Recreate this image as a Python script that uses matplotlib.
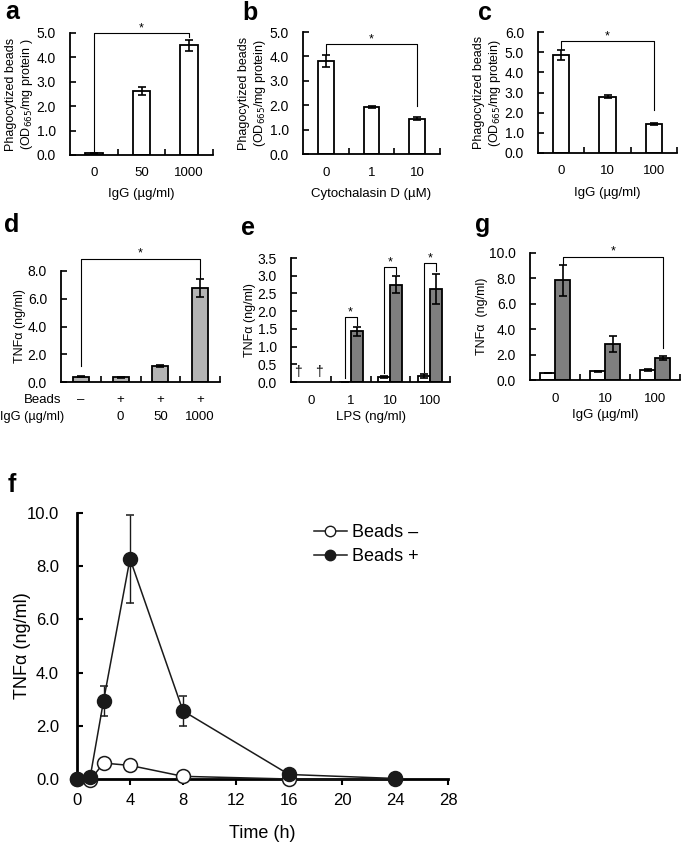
import numpy as np
import matplotlib
matplotlib.use('Agg')
import matplotlib.pyplot as plt
from matplotlib.lines import Line2D

plt.rcParams['font.family'] = ['Liberation Sans', 'DejaVu Sans']

# --- data ---
a_cats = ['0', '50', '1000']
a_mean = [0.08, 2.62, 4.5]
a_err = [0.02, 0.17, 0.22]

b_cats = ['0', '1', '10']
b_mean = [3.8, 1.92, 1.45]
b_err = [0.25, 0.04, 0.05]

c_cats = ['0', '10', '100']
c_mean = [4.87, 2.8, 1.45]
c_err = [0.25, 0.08, 0.05]

d_beads = ['\u2013', '+', '+', '+']
d_igg = ['', '0', '50', '1000']
d_mean = [0.38, 0.33, 1.15, 6.75]
d_err = [0.03, 0.02, 0.06, 0.65]

e_cats = ['0', '1', '10', '100']
e_white = [np.nan, 0.01, 0.14, 0.17]
e_white_err = [np.nan, 0.0, 0.03, 0.05]
e_gray = [np.nan, 1.43, 2.75, 2.62]
e_gray_err = [np.nan, 0.12, 0.25, 0.43]

g_cats = ['0', '10', '100']
g_white = [0.55, 0.68, 0.75]
g_white_err = [0.03, 0.03, 0.08]
g_gray = [7.85, 2.85, 1.75]
g_gray_err = [1.2, 0.65, 0.17]

f_time = [0, 1, 2, 4, 8, 16, 24]
f_minus = [0.0, -0.04, 0.6, 0.51, 0.1, 0.0, 0.0]
f_minus_err = [0.0, 0.0, 0.0, 0.08, 0.1, 0.0, 0.0]
f_plus = [0.0, 0.09, 2.93, 8.28, 2.56, 0.17, 0.02]
f_plus_err = [0.0, 0.0, 0.58, 1.65, 0.55, 0.0, 0.0]

W, H = 685, 843
fig = plt.figure(figsize=(W / 100, H / 100), dpi=100)


def box(l, t, r, b):
    return fig.add_axes([l / W, 1 - b / H, (r - l) / W, (b - t) / H])


def style(ax, n, ymax, ystep, ylab):
    ax.spines[['top', 'right']].set_visible(False)
    for s in ['left', 'bottom']:
        ax.spines[s].set_linewidth(1.3)
    ax.set_xlim(-0.5, n - 0.5)
    ax.set_ylim(0, ymax)
    ax.set_yticks(np.arange(0, ymax + 1e-9, ystep))
    ax.set_yticklabels(['%.1f' % v for v in np.arange(0, ymax + 1e-9, ystep)])
    ax.set_xticks(range(n))
    ax.set_xticks(np.arange(0.5, n), minor=True)
    ax.tick_params(axis='x', which='major', length=0, pad=9, labelsize=9.5)
    ax.tick_params(axis='x', which='minor', direction='in', length=4, width=1.2)
    ax.tick_params(axis='y', direction='in', length=4, width=1.2, pad=10, labelsize=10)
    ax.set_ylabel(ylab, fontsize=9, labelpad=1)


def bracket(ax, x0, x1, y0, ytop, y1, star_y):
    ax.plot([x0, x0, x1, x1], [y0, ytop, ytop, y1], color='black', lw=0.8, clip_on=False)
    ax.text((x0 + x1) / 2, star_y, '*', ha='center', va='center', fontsize=9)


ekw = dict(fmt='none', ecolor='black', elinewidth=1.2, capsize=3, capthick=1.2)
phago = 'Phagocytized beads\n(OD$_{665}$/mg protein)'

# panel a
ax = box(70, 33, 213, 155)
x = np.arange(len(a_cats))
ax.bar(x, a_mean, width=0.37, color='white', edgecolor='black', lw=1.3)
ax.errorbar(x, a_mean, yerr=a_err, **ekw)
style(ax, 3, 5, 1, 'Phagocytized beads\n(OD$_{665}$/mg protein )')
ax.set_xticklabels(a_cats)
ax.set_xlabel('IgG (\u00b5g/ml)', fontsize=9.5, labelpad=6)
bracket(ax, 0, 2, 0.12, 5.0, 4.82, 5.2)

# panel b
ax = box(303, 32, 440, 154)
ax.bar(x, b_mean, width=0.35, color='white', edgecolor='black', lw=1.3)
ax.errorbar(x, b_mean, yerr=b_err, **ekw)
style(ax, 3, 5, 1, phago)
ax.set_xticklabels(b_cats)
ax.set_xlabel('Cytochalasin D (\u00b5M)', fontsize=9.5, labelpad=7)
bracket(ax, 0, 2, 4.08, 4.5, 1.95, 4.7)

# panel c
ax = box(538, 32, 677, 153)
ax.bar(x, c_mean, width=0.35, color='white', edgecolor='black', lw=1.3)
ax.errorbar(x, c_mean, yerr=c_err, **ekw)
style(ax, 3, 6, 1, phago)
ax.set_xticklabels(c_cats)
ax.set_xlabel('IgG (\u00b5g/ml)', fontsize=9.5, labelpad=7)
bracket(ax, 0, 2, 5.15, 5.55, 2.13, 5.78)

# panel d
ax = box(61, 271, 220, 382)
xd = np.arange(len(d_mean))
ax.bar(xd, d_mean, width=0.4, color='#b3b3b3', edgecolor='black', lw=1.3)
ax.errorbar(xd, d_mean, yerr=d_err, **ekw)
style(ax, 4, 8, 2, 'TNF\u03b1 (ng/ml)')
ax.set_xticklabels(['' for _ in xd])
for i in xd:
    ax.text(i, -1.3, d_beads[i], ha='center', va='center', fontsize=9.5)
    ax.text(i, -2.5, d_igg[i], ha='center', va='center', fontsize=9.5)
ax.text(-0.5, -1.3, 'Beads', ha='right', va='center', fontsize=9.5)
ax.text(-0.42, -2.5, 'IgG (\u00b5g/ml)', ha='right', va='center', fontsize=9.2)
bracket(ax, 0, 3, 1.15, 8.9, 7.5, 9.3)

# panel e
ax = box(291, 258, 450, 382)
xe = np.arange(len(e_cats))
ax.bar(xe - 0.15, e_white, width=0.3, color='white', edgecolor='black', lw=1.3)
ax.bar(xe + 0.15, e_gray, width=0.3, color='#7f7f7f', edgecolor='black', lw=1.3)
ax.errorbar(xe - 0.15, e_white, yerr=e_white_err, **ekw)
ax.errorbar(xe + 0.15, e_gray, yerr=e_gray_err, **ekw)
style(ax, 4, 3.5, 0.5, 'TNF\u03b1 (ng/ml)')
ax.set_xticklabels(e_cats)
ax.set_xlabel('LPS (ng/ml)', fontsize=9.5, labelpad=3)
ax.text(-0.32, 0.28, '\u2020', ha='center', va='center', fontsize=10)
ax.text(0.2, 0.28, '\u2020', ha='center', va='center', fontsize=10)
bracket(ax, 0.85, 1.15, 0.12, 1.83, 1.6, 1.97)
bracket(ax, 1.85, 2.15, 0.25, 3.25, 3.05, 3.38)
bracket(ax, 2.85, 3.15, 0.28, 3.35, 3.12, 3.48)

# panel g
ax = box(530, 253, 680, 380)
xg = np.arange(len(g_cats))
ax.bar(xg - 0.15, g_white, width=0.3, color='white', edgecolor='black', lw=1.3)
ax.bar(xg + 0.15, g_gray, width=0.3, color='#7f7f7f', edgecolor='black', lw=1.3)
ax.errorbar(xg - 0.15, g_white, yerr=g_white_err, **ekw)
ax.errorbar(xg + 0.15, g_gray, yerr=g_gray_err, **ekw)
style(ax, 3, 10, 2, 'TNF\u03b1  (ng/ml)')
ax.set_xticklabels(g_cats)
ax.set_xlabel('IgG (\u00b5g/ml)', fontsize=9.5, labelpad=3)
bracket(ax, 0.16, 2.16, 9.1, 9.7, 2.5, 10.15)

# panel f
ax = box(77, 513, 448, 779)
ax.errorbar(f_time, f_minus, yerr=f_minus_err, color='#1a1a1a', lw=1.1,
             marker='o', ms=10, mfc='white', mec='#1a1a1a', mew=1.1,
             capsize=3, elinewidth=1.0, clip_on=False, zorder=3)
ax.errorbar(f_time, f_plus, yerr=f_plus_err, color='#1a1a1a', lw=1.1,
             marker='o', ms=10, mfc='#1a1a1a', mec='#1a1a1a', mew=1.1,
             capsize=3, elinewidth=1.0, clip_on=False, zorder=4)
ax.spines[['top', 'right']].set_visible(False)
for s in ['left', 'bottom']:
    ax.spines[s].set_linewidth(2)
ax.set_xlim(0, 28)
ax.set_ylim(0, 10)
ax.set_xticks(range(0, 29, 4))
ax.set_yticks(range(0, 11, 2))
ax.set_yticklabels(['%.1f' % v for v in range(0, 11, 2)])
ax.tick_params(axis='x', direction='out', length=4, width=1.5, pad=6, labelsize=12)
ax.tick_params(axis='y', direction='in', length=4, width=1.5, pad=13, labelsize=12)
ax.set_xlabel('Time (h)', fontsize=13, labelpad=12)
ax.set_ylabel('TNF\u03b1 (ng/ml)', fontsize=13, labelpad=-3)
handles = [Line2D([], [], color='#1a1a1a', lw=1.1, marker='o', ms=7.5,
                  mfc='white', mec='#1a1a1a'),
           Line2D([], [], color='#1a1a1a', lw=1.1, marker='o', ms=7.5,
                  mfc='#1a1a1a', mec='#1a1a1a')]
ax.legend(handles, ['Beads \u2013', 'Beads +'], loc='upper left',
          bbox_to_anchor=(0.62, 0.985), frameon=False, fontsize=13,
          handlelength=1.8, handletextpad=0.3, labelspacing=0.4, borderaxespad=0)

# panel letters
for lab, px, py in [('a', 12, 12), ('b', 250, 13), ('c', 485, 13),
                    ('d', 12, 225), ('e', 248, 228), ('g', 483, 225),
                    ('f', 12, 485)]:
    fig.text(px / W, 1 - py / H, lab, fontsize=18, fontweight='bold',
             ha='center', va='center')

fig.savefig('out.png', dpi=100)
